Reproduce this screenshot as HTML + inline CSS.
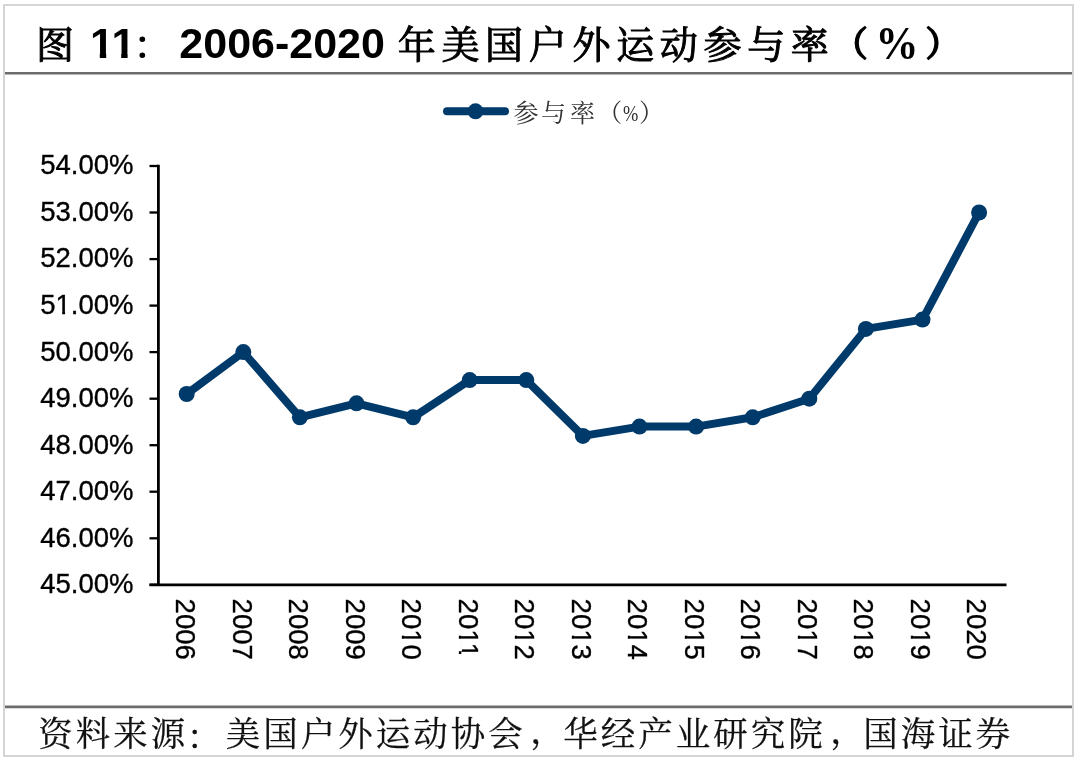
<!DOCTYPE html>
<html><head><meta charset="utf-8"><style>
html,body{margin:0;padding:0;background:#fff;}
body{width:1080px;height:762px;overflow:hidden;position:relative;}
svg{position:absolute;left:0;top:0;}
.tl{font-family:"Liberation Sans",sans-serif;font-weight:bold;font-size:43px;fill:#000;}
.tc{font-family:"Liberation Serif","Noto Serif CJK SC",serif;font-weight:400;fill:#000;stroke:#000;stroke-width:1px;}
.fc{font-family:"Liberation Serif","Noto Serif CJK SC",serif;fill:#111;stroke:#111;stroke-width:0.25px;}
.ax text{font-family:"Liberation Sans",sans-serif;fill:#000;stroke:#000;stroke-width:0.35px;}
.yl text{font-size:27.5px;}
.xl text{font-size:27.5px;}
.lg{font-family:"Liberation Serif","Noto Serif CJK SC",serif;font-size:25px;fill:#333;}
</style></head><body>
<svg width="1080" height="762" viewBox="0 0 1080 762">
<defs><clipPath id="cy3"><rect x="39.85" y="273.95" width="15.69" height="45"/><rect x="53.54" y="273.95" width="19.29" height="36.68"/><rect x="62.22" y="273.95" width="2.83" height="45"/><rect x="70.83" y="273.95" width="8.04" height="45"/><rect x="78.07" y="273.95" width="16.09" height="45"/><rect x="93.36" y="273.95" width="16.09" height="45"/><rect x="108.65" y="273.95" width="25.25" height="45"/></clipPath><clipPath id="cx4"><rect x="-0.40" y="-40.00" width="16.09" height="45"/><rect x="14.89" y="-40.00" width="15.69" height="45"/><rect x="28.58" y="-40.00" width="19.29" height="36.68"/><rect x="37.26" y="-40.00" width="2.83" height="45"/><rect x="45.87" y="-40.00" width="15.69" height="45"/></clipPath><clipPath id="cx5"><rect x="-0.40" y="-40.00" width="16.09" height="45"/><rect x="14.89" y="-40.00" width="15.69" height="45"/><rect x="28.58" y="-40.00" width="19.29" height="36.68"/><rect x="37.26" y="-40.00" width="2.83" height="45"/><rect x="43.87" y="-40.00" width="19.29" height="36.68"/><rect x="52.55" y="-40.00" width="2.83" height="45"/></clipPath><clipPath id="cx6"><rect x="-0.40" y="-40.00" width="16.09" height="45"/><rect x="14.89" y="-40.00" width="15.69" height="45"/><rect x="28.58" y="-40.00" width="19.29" height="36.68"/><rect x="37.26" y="-40.00" width="2.83" height="45"/><rect x="45.87" y="-40.00" width="15.69" height="45"/></clipPath><clipPath id="cx7"><rect x="-0.40" y="-40.00" width="16.09" height="45"/><rect x="14.89" y="-40.00" width="15.69" height="45"/><rect x="28.58" y="-40.00" width="19.29" height="36.68"/><rect x="37.26" y="-40.00" width="2.83" height="45"/><rect x="45.87" y="-40.00" width="15.69" height="45"/></clipPath><clipPath id="cx8"><rect x="-0.40" y="-40.00" width="16.09" height="45"/><rect x="14.89" y="-40.00" width="15.69" height="45"/><rect x="28.58" y="-40.00" width="19.29" height="36.68"/><rect x="37.26" y="-40.00" width="2.83" height="45"/><rect x="45.87" y="-40.00" width="15.69" height="45"/></clipPath><clipPath id="cx9"><rect x="-0.40" y="-40.00" width="16.09" height="45"/><rect x="14.89" y="-40.00" width="15.69" height="45"/><rect x="28.58" y="-40.00" width="19.29" height="36.68"/><rect x="37.26" y="-40.00" width="2.83" height="45"/><rect x="45.87" y="-40.00" width="15.69" height="45"/></clipPath><clipPath id="cx10"><rect x="-0.40" y="-40.00" width="16.09" height="45"/><rect x="14.89" y="-40.00" width="15.69" height="45"/><rect x="28.58" y="-40.00" width="19.29" height="36.68"/><rect x="37.26" y="-40.00" width="2.83" height="45"/><rect x="45.87" y="-40.00" width="15.69" height="45"/></clipPath><clipPath id="cx11"><rect x="-0.40" y="-40.00" width="16.09" height="45"/><rect x="14.89" y="-40.00" width="15.69" height="45"/><rect x="28.58" y="-40.00" width="19.29" height="36.68"/><rect x="37.26" y="-40.00" width="2.83" height="45"/><rect x="45.87" y="-40.00" width="15.69" height="45"/></clipPath><clipPath id="cx12"><rect x="-0.40" y="-40.00" width="16.09" height="45"/><rect x="14.89" y="-40.00" width="15.69" height="45"/><rect x="28.58" y="-40.00" width="19.29" height="36.68"/><rect x="37.26" y="-40.00" width="2.83" height="45"/><rect x="45.87" y="-40.00" width="15.69" height="45"/></clipPath><clipPath id="cx13"><rect x="-0.40" y="-40.00" width="16.09" height="45"/><rect x="14.89" y="-40.00" width="15.69" height="45"/><rect x="28.58" y="-40.00" width="19.29" height="36.68"/><rect x="37.26" y="-40.00" width="2.83" height="45"/><rect x="45.87" y="-40.00" width="15.69" height="45"/></clipPath></defs>
<rect x="4" y="5" width="1069" height="751" fill="none" stroke="#d5d5d5" stroke-width="2"/>
<text class="tc" x="36.0" y="58" style="font-size:38px">图</text>
<clipPath id="c1"><rect x="80" y="10" width="60" height="42.9"/><rect x="99.8" y="10" width="6.4" height="60"/><rect x="121.2" y="10" width="6.4" height="60"/></clipPath>
<text class="tl" x="90 111.4" y="57.5" clip-path="url(#c1)">11</text>
<text class="tc" x="133.5" y="58" style="font-size:38px">：</text>
<text class="tl" x="179.3" y="57.5">2006-2020</text>
<text class="tc" x="397.8 441.5 485.1 528.8 572.5 616.2 659.8 703.5 747.2 790.8" y="58" style="font-size:38px">年美国户外运动参与率</text>
<text class="tc" x="833.6" y="56.4" style="font-size:34px;stroke-width:2px">（</text>
<text class="tl" transform="translate(875.5,59) scale(1,1.1)" style="font-family:'Liberation Serif',serif">%</text>
<text class="tc" x="925.8" y="56.4" style="font-size:34px;stroke-width:2px">）</text>
<line x1="5" y1="73.3" x2="1072" y2="73.3" stroke="#6c6c6c" stroke-width="2.6"/>
<g class="lgd">
<line x1="447" y1="111.3" x2="505" y2="111.3" stroke="#003a6a" stroke-width="8" stroke-linecap="round"/>
<circle cx="475.5" cy="111.3" r="8" fill="#003a6a"/>
<text class="lg" x="513.6 541 569.9 597.3" y="122.2">参与率（</text>
<text class="lg" transform="translate(623,120.5) scale(0.8,1)" x="0" y="0" style="font-family:'Liberation Serif',serif;font-size:23px">%</text>
<text class="lg" x="638.9" y="122.2">）</text>
</g>
<g class="ax">
<g stroke="#000" stroke-width="2.8"><line x1="149.5" y1="166.0" x2="158.4" y2="166.0" stroke-width="2.3"/><line x1="149.5" y1="212.5" x2="158.4" y2="212.5" stroke-width="2.3"/><line x1="149.5" y1="259.1" x2="158.4" y2="259.1" stroke-width="2.3"/><line x1="149.5" y1="305.6" x2="158.4" y2="305.6" stroke-width="2.3"/><line x1="149.5" y1="352.1" x2="158.4" y2="352.1" stroke-width="2.3"/><line x1="149.5" y1="398.7" x2="158.4" y2="398.7" stroke-width="2.3"/><line x1="149.5" y1="445.2" x2="158.4" y2="445.2" stroke-width="2.3"/><line x1="149.5" y1="491.7" x2="158.4" y2="491.7" stroke-width="2.3"/><line x1="149.5" y1="538.3" x2="158.4" y2="538.3" stroke-width="2.3"/><line x1="149.5" y1="584.8" x2="158.4" y2="584.8" stroke-width="2.3"/>
<line x1="158.4" y1="164.85" x2="158.4" y2="584.8"/>
<line x1="149.5" y1="584.8" x2="1006.5" y2="584.8"/>
</g>
<g class="yl" text-anchor="end"><text x="133.5" y="174.3">54.00%</text><text x="133.5" y="220.9">53.00%</text><text x="133.5" y="267.4">52.00%</text><text x="133.5" y="313.9" clip-path="url(#cy3)">51.00%</text><text x="133.5" y="360.5">50.00%</text><text x="133.5" y="407.0">49.00%</text><text x="133.5" y="453.5">48.00%</text><text x="133.5" y="500.1">47.00%</text><text x="133.5" y="546.6">46.00%</text><text x="133.5" y="593.1">45.00%</text></g>
<g class="xl"><text transform="translate(176.1,598.6) rotate(90)">2006</text><text transform="translate(232.6,598.6) rotate(90)">2007</text><text transform="translate(289.1,598.6) rotate(90)">2008</text><text transform="translate(345.6,598.6) rotate(90)">2009</text><text transform="translate(402.1,598.6) rotate(90)" clip-path="url(#cx4)">2010</text><text transform="translate(458.6,598.6) rotate(90)" clip-path="url(#cx5)">2011</text><text transform="translate(515.1,598.6) rotate(90)" clip-path="url(#cx6)">2012</text><text transform="translate(571.6,598.6) rotate(90)" clip-path="url(#cx7)">2013</text><text transform="translate(628.1,598.6) rotate(90)" clip-path="url(#cx8)">2014</text><text transform="translate(684.6,598.6) rotate(90)" clip-path="url(#cx9)">2015</text><text transform="translate(741.2,598.6) rotate(90)" clip-path="url(#cx10)">2016</text><text transform="translate(797.7,598.6) rotate(90)" clip-path="url(#cx11)">2017</text><text transform="translate(854.2,598.6) rotate(90)" clip-path="url(#cx12)">2018</text><text transform="translate(910.7,598.6) rotate(90)" clip-path="url(#cx13)">2019</text><text transform="translate(967.2,598.6) rotate(90)">2020</text></g>
</g>
<polyline points="186.7,394.0 243.3,352.1 299.9,417.3 356.5,403.3 413.1,417.3 469.7,380.1 526.3,380.1 582.9,435.9 639.5,426.6 696.1,426.6 752.7,417.3 809.3,398.7 865.9,328.9 922.5,319.6 979.1,212.5" fill="none" stroke="#003a6a" stroke-width="8" stroke-linejoin="round"/>
<g fill="#003a6a"><circle cx="186.7" cy="394.0" r="8"/><circle cx="243.3" cy="352.1" r="8"/><circle cx="299.9" cy="417.3" r="8"/><circle cx="356.5" cy="403.3" r="8"/><circle cx="413.1" cy="417.3" r="8"/><circle cx="469.7" cy="380.1" r="8"/><circle cx="526.3" cy="380.1" r="8"/><circle cx="582.9" cy="435.9" r="8"/><circle cx="639.5" cy="426.6" r="8"/><circle cx="696.1" cy="426.6" r="8"/><circle cx="752.7" cy="417.3" r="8"/><circle cx="809.3" cy="398.7" r="8"/><circle cx="865.9" cy="328.9" r="8"/><circle cx="922.5" cy="319.6" r="8"/><circle cx="979.1" cy="212.5" r="8"/></g>
<line x1="5" y1="706.8" x2="1072" y2="706.8" stroke="#6c6c6c" stroke-width="2.8"/>
<text class="fc" x="38.2 75.8 113.2 150.8 186.8 225.8 263.2 300.8 338.2 375.8 413.2 450.8 488.2 530.2 563.2 600.8 638.2 675.8 713.2 750.8 788.2 830.2 863.2 900.8 938.2 975.8" y="746.2 746.2 746.2 746.2 748.7 746.2 746.2 746.2 746.2 746.2 746.2 746.2 746.2 742.7 746.2 746.2 746.2 746.2 746.2 746.2 746.2 742.7 746.2 746.2 746.2 746.2" style="font-size:34.5px">资料来源：美国户外运动协会，华经产业研究院，国海证券</text>
</svg>
</body></html>
